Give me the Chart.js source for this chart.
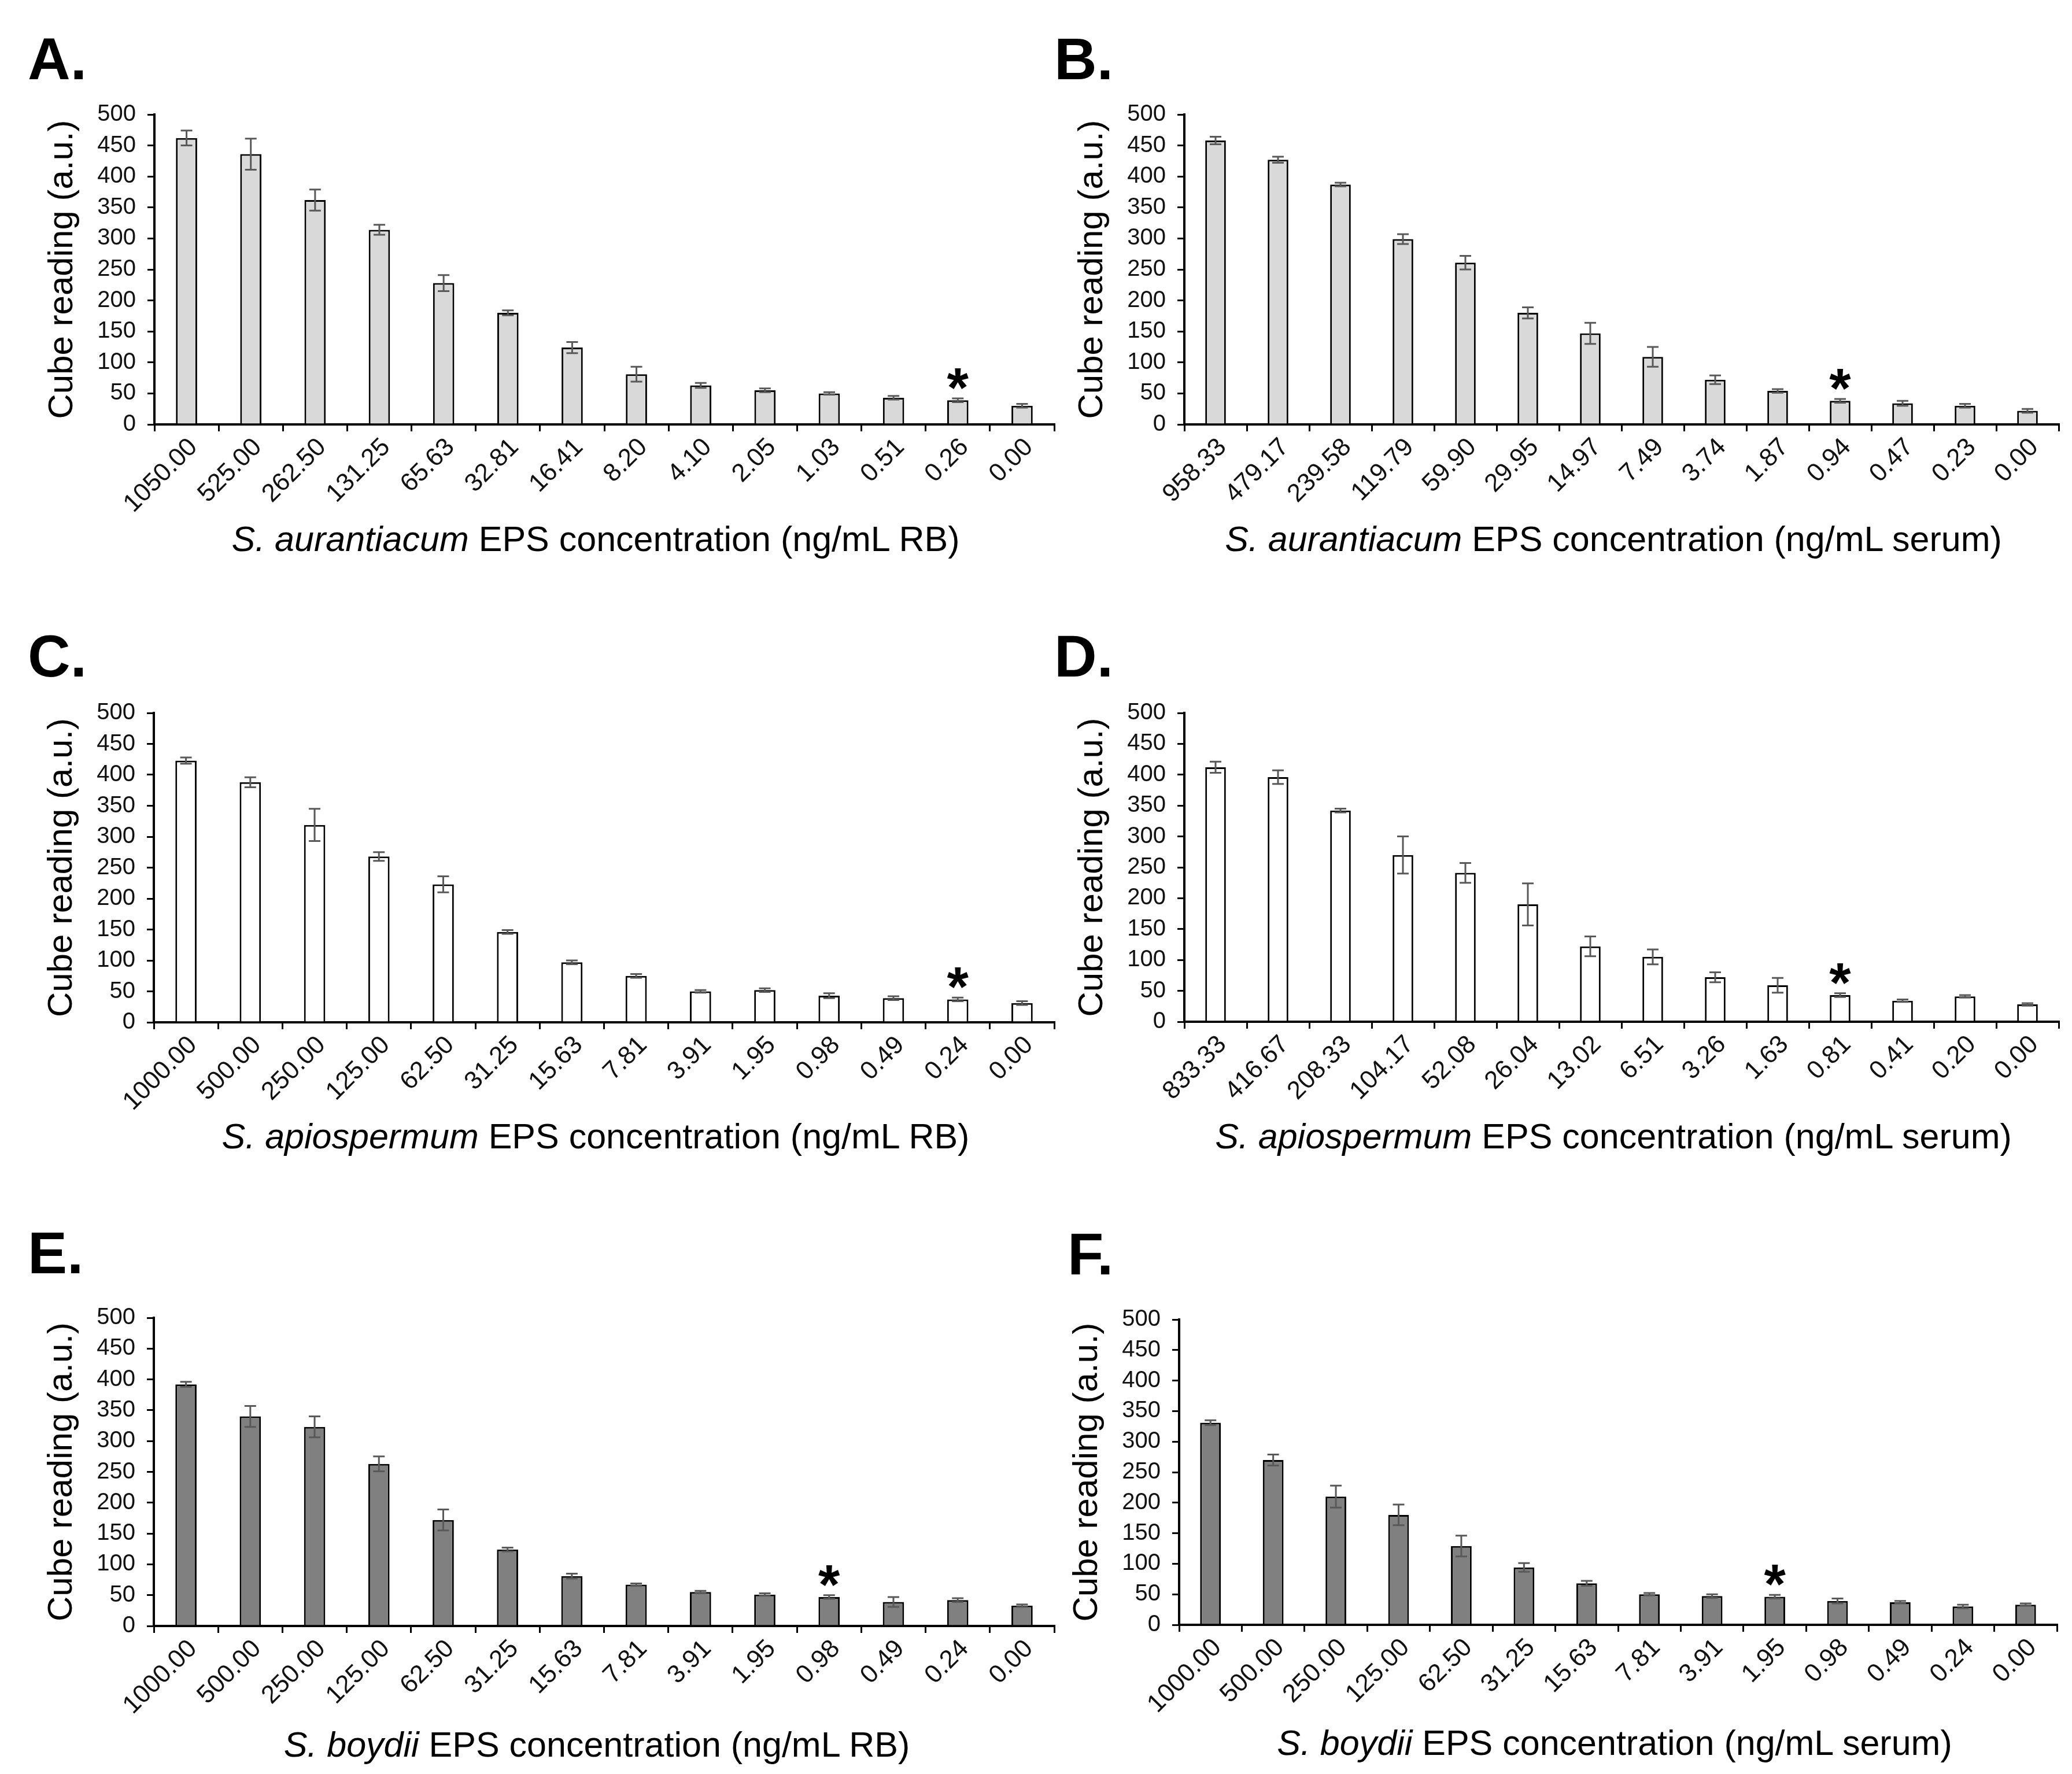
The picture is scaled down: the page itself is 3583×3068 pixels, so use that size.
<!DOCTYPE html>
<html>
<head>
<meta charset="utf-8">
<script src="https://cdn.jsdelivr.net/npm/chart.js@4.4.1/dist/chart.umd.min.js"></script>
<style>
  html, body { margin: 0; padding: 0; background: #fff; }
  body { width: 3583px; height: 3068px; position: relative; overflow: hidden;
         font-family: 'Liberation Sans', Arial, sans-serif; }
  .panel { position: absolute; }
  .letter { position: absolute; font-weight: bold; font-size: 102px; line-height: 102px; color: #000; }
  .xtitle { position: absolute; width: 2000px; text-align: center; font-size: 61px;
            line-height: 61px; color: #000; white-space: nowrap; }
</style>
</head>
<body>
<script>
// ── Data ────────────────────────────────────────────────────────────────────
const labelsA = ['1050.00','525.00','262.50','131.25','65.63','32.81','16.41','8.20','4.10','2.05','1.03','0.51','0.26','0.00'];
const labelsB = ['958.33','479.17','239.58','119.79','59.90','29.95','14.97','7.49','3.74','1.87','0.94','0.47','0.23','0.00'];
const labelsC = ['1000.00','500.00','250.00','125.00','62.50','31.25','15.63','7.81','3.91','1.95','0.98','0.49','0.24','0.00'];
const labelsD = ['833.33','416.67','208.33','104.17','52.08','26.04','13.02','6.51','3.26','1.63','0.81','0.41','0.20','0.00'];
const labelsE = ['1000.00','500.00','250.00','125.00','62.50','31.25','15.63','7.81','3.91','1.95','0.98','0.49','0.24','0.00'];
const labelsF = ['1000.00','500.00','250.00','125.00','62.50','31.25','15.63','7.81','3.91','1.95','0.98','0.49','0.24','0.00'];

const valuesA = [462, 436, 362, 314, 228, 180, 124, 81, 63, 55, 50, 43, 39, 30];
const errorsA = [12, 25, 17, 8, 13, 4, 9, 12, 4, 3, 2, 3, 3, 3];
const valuesB = [458, 427, 387, 299, 261, 180, 147, 109, 72, 54, 38, 34, 30, 22];
const errorsB = [6, 5, 3, 8, 11, 9, 17, 16, 7, 3, 3, 4, 3, 3];
const valuesC = [423, 388, 319, 268, 223, 146, 97, 75, 50, 52, 43, 39, 37, 31];
const errorsC = [5, 8, 26, 7, 13, 3, 3, 3, 2, 3, 4, 3, 3, 3];
const valuesD = [412, 396, 342, 270, 241, 190, 122, 105, 72, 59, 43, 34, 41, 28];
const errorsD = [9, 11, 3, 30, 16, 34, 16, 12, 8, 12, 3, 2, 2, 2];
const valuesE = [392, 340, 323, 263, 172, 124, 81, 67, 55, 51, 47, 39, 42, 33];
const errorsE = [4, 17, 17, 12, 17, 3, 4, 2, 2, 2, 3, 8, 3, 2];
const valuesF = [331, 270, 210, 180, 129, 94, 68, 50, 47, 46, 39, 37, 30, 33];
const errorsF = [4, 9, 18, 17, 17, 7, 4, 2, 3, 3, 4, 2, 3, 2];

// index of the bar marked with an asterisk
const starIndex = { A: 12, B: 10, C: 12, D: 10, E: 10, F: 9 };

const yTicks = { min: 0, max: 500, step: 50 };
const yTitle = 'Cube reading (a.u.)';

const panels = [
  { id: 'A', labels: labelsA, values: valuesA, errors: errorsA, fill: '#d9d9d9',
    species: 'S. aurantiacum', unit: 'EPS concentration (ng/mL RB)' },
  { id: 'B', labels: labelsB, values: valuesB, errors: errorsB, fill: '#d9d9d9',
    species: 'S. aurantiacum', unit: 'EPS concentration (ng/mL serum)' },
  { id: 'C', labels: labelsC, values: valuesC, errors: errorsC, fill: '#ffffff',
    species: 'S. apiospermum', unit: 'EPS concentration (ng/mL RB)' },
  { id: 'D', labels: labelsD, values: valuesD, errors: errorsD, fill: '#ffffff',
    species: 'S. apiospermum', unit: 'EPS concentration (ng/mL serum)' },
  { id: 'E', labels: labelsE, values: valuesE, errors: errorsE, fill: '#808080',
    species: 'S. boydii', unit: 'EPS concentration (ng/mL RB)' },
  { id: 'F', labels: labelsF, values: valuesF, errors: errorsF, fill: '#808080',
    species: 'S. boydii', unit: 'EPS concentration (ng/mL serum)' },
];

// ── Layout (page pixels) ────────────────────────────────────────────────────
const Y_W = 267, X_H = 190, PAD_T = 40, PAD_R = 30;
const geom = {
  A: { axisX: 267,  right: 1823, top: 194,  bottom: 734,  letter: [48, 51],     title: [1030, 902] },
  B: { axisX: 2048, right: 3560, top: 194,  bottom: 734,  letter: [1823, 51],   title: [2790, 902] },
  C: { axisX: 266,  right: 1823, top: 1229, bottom: 1768, letter: [48, 1084],   title: [1030, 1935] },
  D: { axisX: 2048, right: 3560, top: 1229, bottom: 1767, letter: [1823, 1084], title: [2790, 1935] },
  E: { axisX: 266,  right: 1823, top: 2275, bottom: 2812, letter: [48, 2116],   title: [1032, 2987] },
  F: { axisX: 2039, right: 3557, top: 2278, bottom: 2810, letter: [1846, 2118], title: [2792, 2984] },
};

const FONT = "'Liberation Sans', Arial, sans-serif";

// ── Error bars + significance star ──────────────────────────────────────────
function errorBarPlugin(errors, star) {
  return {
    id: 'errbars',
    afterDatasetsDraw(chart) {
      const ctx = chart.ctx;
      const meta = chart.getDatasetMeta(0);
      const ys = chart.scales.y;
      const vals = chart.data.datasets[0].data;
      ctx.save();
      ctx.strokeStyle = '#595959';
      ctx.lineWidth = 3;
      meta.data.forEach((bar, i) => {
        const hi = ys.getPixelForValue(vals[i] + errors[i]);
        const lo = ys.getPixelForValue(vals[i] - errors[i]);
        ctx.beginPath();
        ctx.moveTo(bar.x, hi); ctx.lineTo(bar.x, lo);
        ctx.moveTo(bar.x - 10, hi); ctx.lineTo(bar.x + 10, hi);
        ctx.moveTo(bar.x - 10, lo); ctx.lineTo(bar.x + 10, lo);
        ctx.stroke();
      });
      // asterisk above the flagged bar
      const b = meta.data[star];
      const top = ys.getPixelForValue(vals[star] + errors[star]);
      ctx.fillStyle = '#000';
      ctx.font = 'bold 96px ' + FONT;
      ctx.textAlign = 'center';
      ctx.textBaseline = 'alphabetic';
      const m = ctx.measureText('*');
      ctx.fillText('*', b.x, top - 16 - m.actualBoundingBoxDescent);
      ctx.restore();
    }
  };
}

// ── Build panels ────────────────────────────────────────────────────────────
panels.forEach(p => {
  const g = geom[p.id];
  const plotW = g.right - g.axisX, plotH = g.bottom - g.top;

  const letter = document.createElement('div');
  letter.className = 'letter';
  letter.style.left = g.letter[0] + 'px';
  letter.style.top = g.letter[1] + 'px';
  letter.textContent = p.id + '.';
  document.body.appendChild(letter);

  const title = document.createElement('div');
  title.className = 'xtitle';
  title.style.left = (g.title[0] - 1000) + 'px';
  title.style.top = g.title[1] + 'px';
  title.innerHTML = '<i>' + p.species + '</i> ' + p.unit;
  document.body.appendChild(title);

  const wrap = document.createElement('div');
  wrap.className = 'panel';
  const w = Y_W + plotW + PAD_R, h = PAD_T + plotH + X_H;
  wrap.style.left = (g.axisX - Y_W) + 'px';
  wrap.style.top = (g.top - PAD_T) + 'px';
  wrap.style.width = w + 'px';
  wrap.style.height = h + 'px';
  const canvas = document.createElement('canvas');
  canvas.width = w; canvas.height = h;
  wrap.appendChild(canvas);
  document.body.appendChild(wrap);

  new Chart(canvas.getContext('2d'), {
    type: 'bar',
    data: {
      labels: p.labels,
      datasets: [{
        data: p.values,
        backgroundColor: p.fill,
        borderColor: '#000',
        borderWidth: 3,
        barPercentage: 0.33,
        categoryPercentage: 1.0,
      }]
    },
    options: {
      responsive: false,
      animation: false,
      devicePixelRatio: 1,
      layout: { padding: { top: PAD_T, right: PAD_R, left: 0, bottom: 0 } },
      plugins: { legend: { display: false }, tooltip: { enabled: false } },
      scales: {
        x: {
          afterFit: s => { s.height = X_H; },
          grid: { display: true, drawOnChartArea: false, drawTicks: true, tickLength: 12,
                  color: '#000', lineWidth: 3, offset: true },
          border: { display: true, color: '#000', width: 4 },
          ticks: { autoSkip: false, maxRotation: 45, minRotation: 45, padding: 2, labelOffset: 12,
                   color: '#111', font: { family: FONT, size: 44 } }
        },
        y: {
          min: yTicks.min, max: yTicks.max,
          afterFit: s => { s.width = Y_W; },
          grid: { drawOnChartArea: false, drawTicks: true, tickLength: 12, color: '#000', lineWidth: 3 },
          border: { display: true, color: '#000', width: 4 },
          ticks: { stepSize: yTicks.step, padding: 20, color: '#111', font: { family: FONT, size: 40 } },
          title: { display: true, text: yTitle, color: '#000',
                   font: { family: FONT, size: 60 }, padding: { top: 72, bottom: 0 } }
        }
      }
    },
    plugins: [errorBarPlugin(p.errors, starIndex[p.id])]
  });
});
</script>
</body>
</html>
